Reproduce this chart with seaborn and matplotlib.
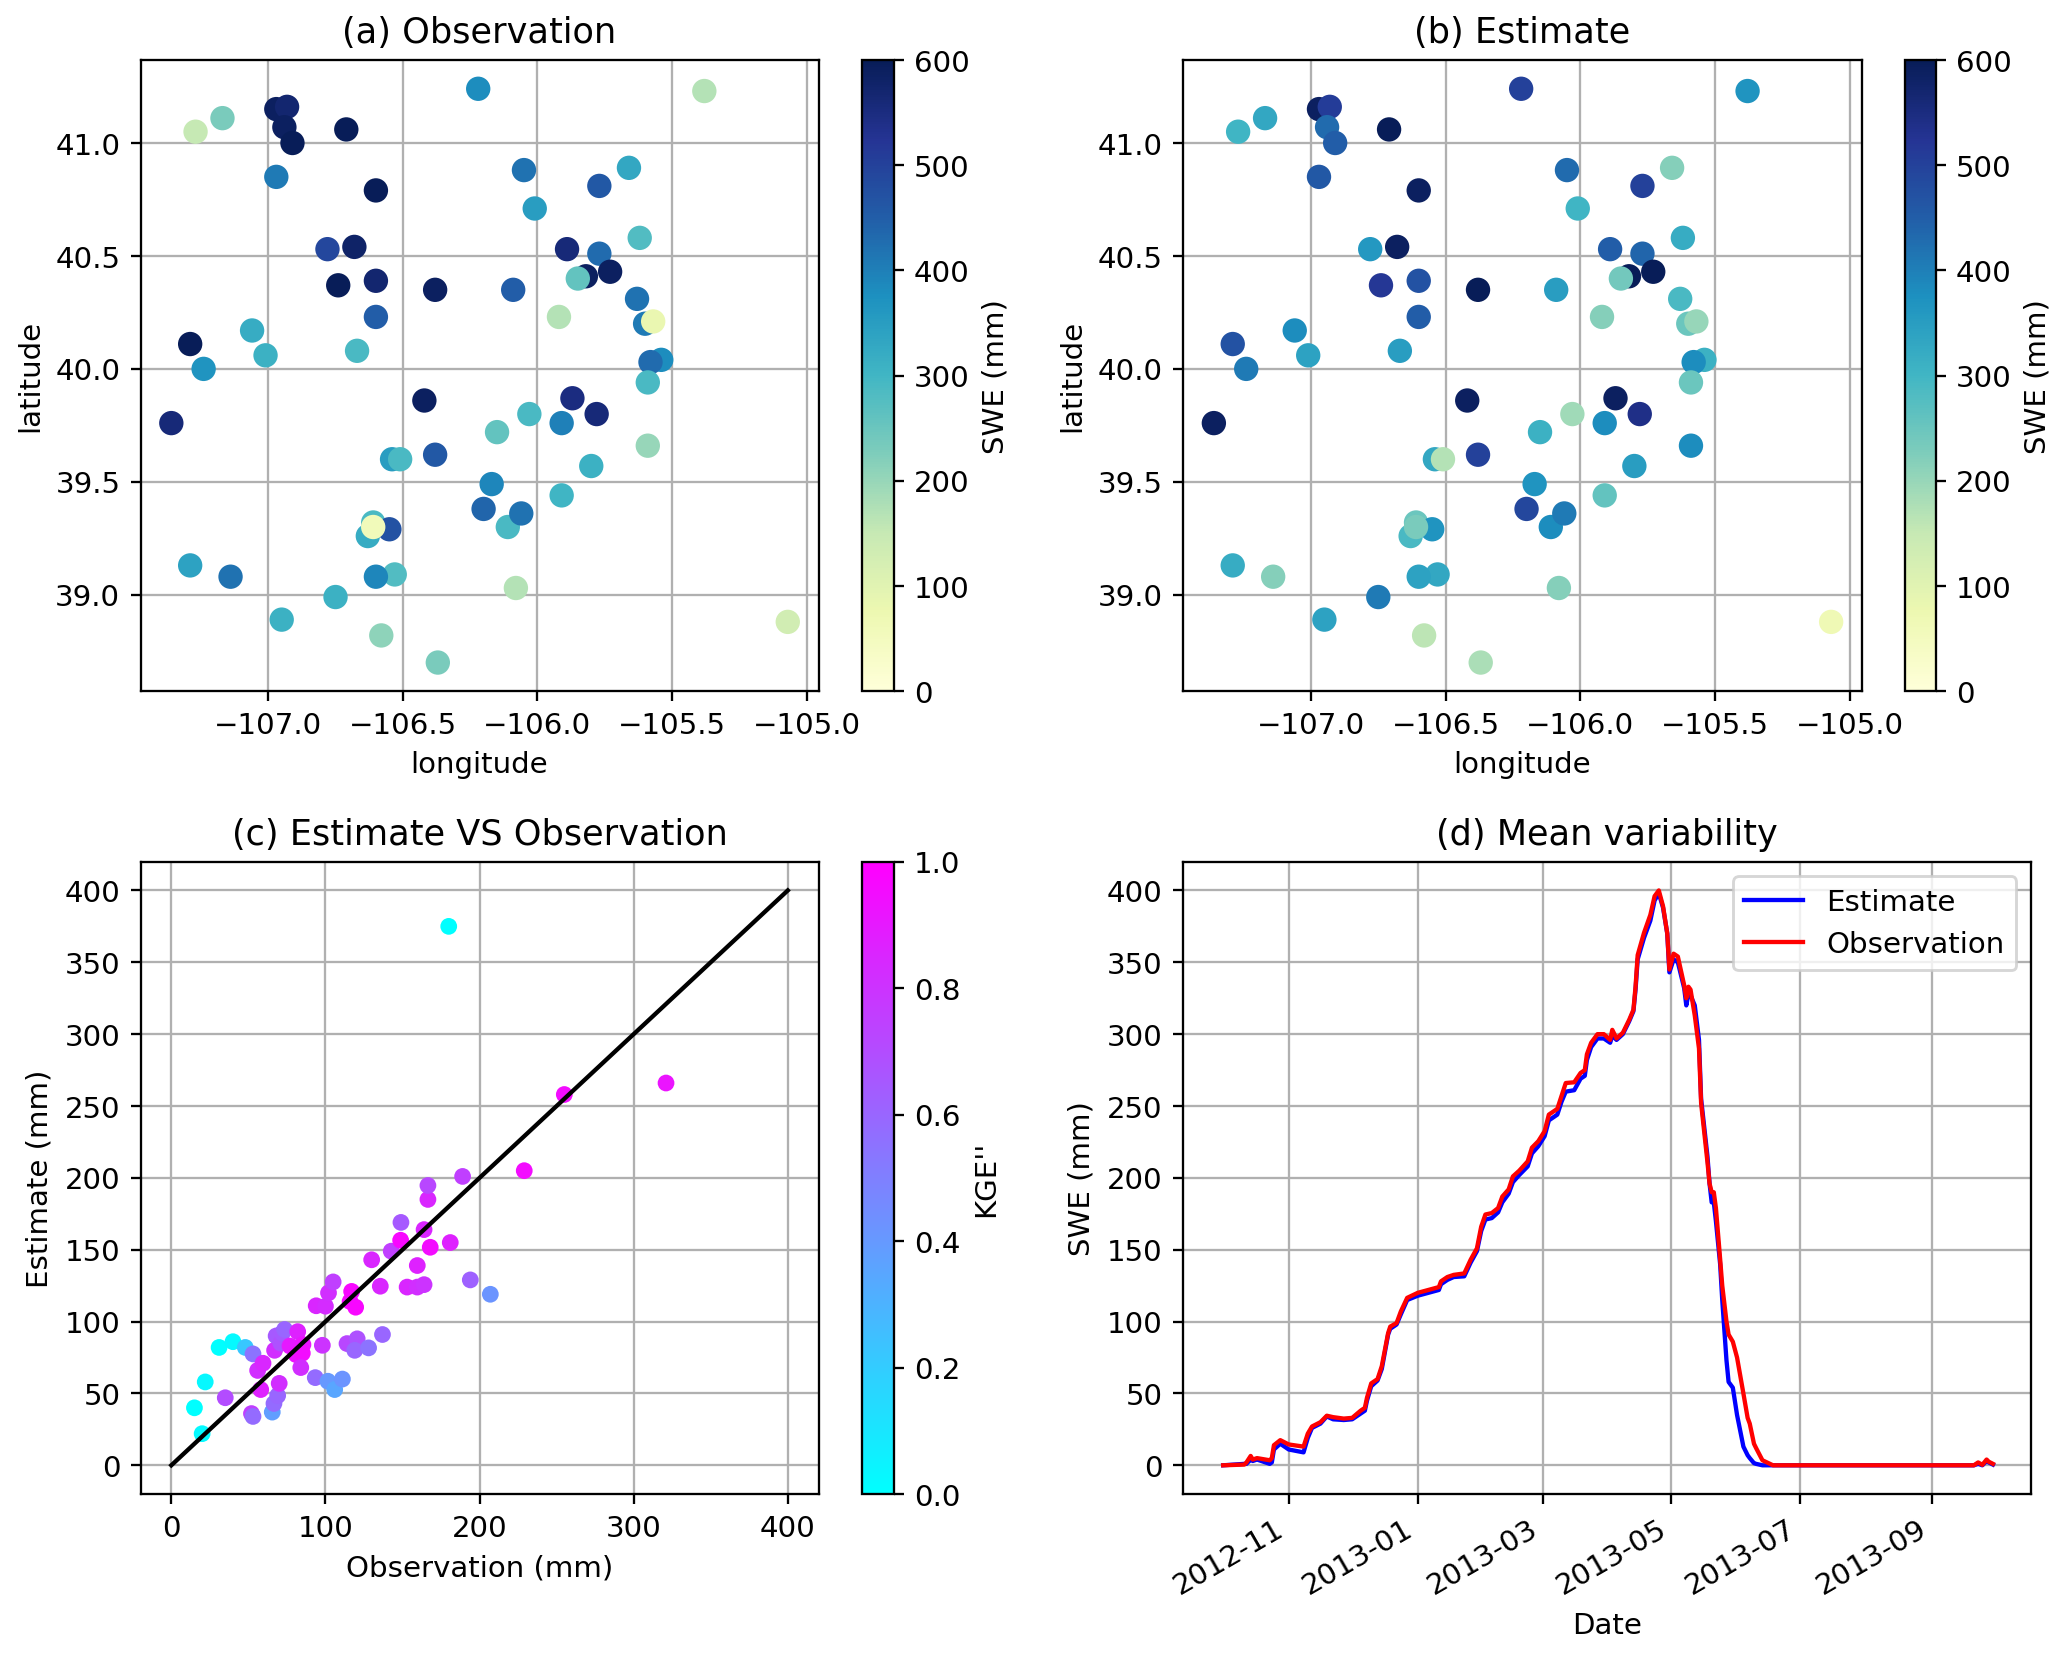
import matplotlib
matplotlib.use('Agg')
import matplotlib.pyplot as plt
import matplotlib.dates as mdates
import numpy as np
import pandas as pd
import seaborn as sns

# stations, panels (a) and (b)
lon = [-107.36, -107.29, -107.24, -107.27, -107.17, -107.29, -107.14, -107.06, -107.01, -106.97,
       -106.93, -106.94, -106.91, -106.97, -106.95, -106.78, -106.74, -106.75, -106.71, -106.68,
       -106.67, -106.60, -106.60, -106.60, -106.61, -106.63, -106.55, -106.61, -106.53, -106.60,
       -106.58, -106.54, -106.51, -106.42, -106.38, -106.38, -106.37, -106.22, -106.15, -106.20,
       -106.17, -106.11, -106.09, -106.08, -106.06, -106.05, -106.03, -106.01, -105.92, -105.91,
       -105.91, -105.89, -105.87, -105.82, -105.85, -105.80, -105.78, -105.77, -105.77, -105.73,
       -105.66, -105.63, -105.62, -105.60, -105.57, -105.54, -105.58, -105.59, -105.59, -105.38,
       -105.07]
lat = [39.76, 40.11, 40.00, 41.05, 41.11, 39.13, 39.08, 40.17, 40.06, 41.15,
       41.16, 41.07, 41.00, 40.85, 38.89, 40.53, 40.37, 38.99, 41.06, 40.54,
       40.08, 40.79, 40.39, 40.23, 39.32, 39.26, 39.29, 39.30, 39.09, 39.08,
       38.82, 39.60, 39.60, 39.86, 40.35, 39.62, 38.70, 41.24, 39.72, 39.38,
       39.49, 39.30, 40.35, 39.03, 39.36, 40.88, 39.80, 40.71, 40.23, 39.76,
       39.44, 40.53, 39.87, 40.41, 40.40, 39.57, 39.80, 40.81, 40.51, 40.43,
       40.89, 40.31, 40.58, 40.20, 40.21, 40.04, 40.03, 39.94, 39.66, 41.23,
       38.88]
swe_obs = [560, 600, 370, 150, 230, 340, 420, 320, 310, 590,
           570, 590, 600, 410, 310, 490, 600, 310, 600, 580,
           290, 600, 570, 450, 290, 320, 470, 60, 280, 390,
           210, 350, 290, 590, 590, 460, 230, 380, 260, 440,
           390, 290, 450, 170, 420, 420, 290, 350, 170, 400,
           300, 560, 550, 590, 260, 310, 560, 460, 430, 590,
           330, 420, 280, 410, 80, 380, 430, 290, 200, 170,
           130]
swe_est = [590, 470, 410, 300, 330, 320, 220, 380, 340, 590,
           510, 430, 450, 460, 340, 360, 520, 410, 600, 590,
           350, 590, 470, 450, 250, 290, 370, 230, 330, 340,
           160, 330, 170, 590, 600, 500, 180, 500, 310, 490,
           370, 380, 350, 220, 410, 430, 190, 300, 220, 380,
           260, 450, 590, 600, 240, 350, 540, 500, 440, 600,
           220, 290, 320, 250, 200, 310, 380, 250, 380, 370,
           70]

# panel (c)
c_obs = [20, 15, 22, 31, 40, 48, 53, 35, 52, 53, 65.5, 66.6, 69, 70, 58, 56, 59.5, 67, 68, 71,
         72, 73.5, 82, 77, 85.4, 81, 85, 84, 93.4, 101.6, 106, 111, 98, 114, 120.6, 119, 128, 137, 94, 100,
         102, 105, 117, 116, 119.6, 130, 135.6, 142.7, 148.8, 149, 153, 159.6, 159.6, 164, 164, 166.5, 166.5, 168, 181, 194,
         207, 189, 229, 255, 321, 180]
c_est = [22, 40, 58, 82, 86, 82, 77.5, 47, 36, 34, 37, 43, 48.5, 57, 52.7, 66, 71, 80, 90, 85,
         92, 94.5, 93, 83, 84, 77, 78, 68, 61, 58.5, 52.7, 60, 83.5, 84.7, 88, 80, 81.7, 91, 111, 110.7,
         120, 127.6, 121, 114, 110, 143, 124.6, 149, 156.6, 169, 124, 124, 139, 125.7, 164, 185, 194.7, 151.7, 155, 129,
         119, 201, 205, 258, 266, 375]
c_kge = [0.02, 0, 0.03, 0, 0.02, 0.22, 0.55, 0.7, 0.75, 0.58, 0.38, 0.58, 0.6, 0.82, 0.87, 0.82, 0.85, 0.82, 0.65, 0.68,
         0.65, 0.6, 0.87, 0.9, 0.92, 0.93, 0.95, 0.82, 0.58, 0.4, 0.35, 0.42, 0.8, 0.72, 0.68, 0.6, 0.55, 0.6, 0.85, 0.83,
         0.82, 0.75, 0.97, 0.97, 0.97, 0.85, 0.85, 0.75, 0.97, 0.65, 0.85, 0.82, 0.87, 0.8, 0.85, 0.85, 0.72, 0.95, 0.87, 0.62,
         0.42, 0.75, 0.95, 0.95, 0.92, 0]
one_to_one = [0, 400]

# panel (d)
dates = ['2012-10-01', '2012-10-11', '2012-10-12', '2012-10-14', '2012-10-15', '2012-10-17', '2012-10-23', '2012-10-24',
         '2012-10-25', '2012-10-28', '2012-11-01', '2012-11-08', '2012-11-10', '2012-11-12', '2012-11-16', '2012-11-19',
         '2012-11-22', '2012-11-27', '2012-12-01', '2012-12-05', '2012-12-07', '2012-12-08', '2012-12-10', '2012-12-13',
         '2012-12-15', '2012-12-18', '2012-12-19', '2012-12-22', '2012-12-24', '2012-12-27', '2013-01-01', '2013-01-11',
         '2013-01-12', '2013-01-15', '2013-01-18', '2013-01-23', '2013-01-26', '2013-01-29', '2013-01-31', '2013-02-02',
         '2013-02-05', '2013-02-08', '2013-02-10', '2013-02-13', '2013-02-15', '2013-02-18', '2013-02-22', '2013-02-24',
         '2013-02-27', '2013-03-02', '2013-03-04', '2013-03-08', '2013-03-10', '2013-03-12', '2013-03-16', '2013-03-19',
         '2013-03-21', '2013-03-22', '2013-03-24', '2013-03-27', '2013-03-30', '2013-04-02', '2013-04-03', '2013-04-05',
         '2013-04-08', '2013-04-11', '2013-04-13', '2013-04-14', '2013-04-15', '2013-04-18', '2013-04-21', '2013-04-23',
         '2013-04-25', '2013-04-27', '2013-04-29', '2013-04-30', '2013-05-02', '2013-05-04', '2013-05-07', '2013-05-08',
         '2013-05-09', '2013-05-10', '2013-05-12', '2013-05-14', '2013-05-15', '2013-05-18', '2013-05-19', '2013-05-20',
         '2013-05-21', '2013-05-22', '2013-05-24', '2013-05-25', '2013-05-27', '2013-05-28', '2013-05-30', '2013-06-01',
         '2013-06-04', '2013-06-06', '2013-06-07', '2013-06-09', '2013-06-10', '2013-06-13', '2013-06-18', '2013-09-21',
         '2013-09-23', '2013-09-25', '2013-09-27', '2013-09-28', '2013-09-30']
swe_d_obs = [0, 0.5, 2, 6.5, 4, 5, 3.5, 5,
             14, 17.5, 14.5, 13, 22, 27, 30, 34.5,
             33.5, 32.5, 33, 38, 40, 47, 57, 60,
             69, 92, 96.5, 99, 107, 116.5, 120, 124,
             128, 131, 132.5, 133.5, 143, 151, 166, 174.5,
             175.5, 179, 187, 192, 201, 205, 211.5, 221,
             225.5, 232.5, 244, 248, 257, 266, 266.5, 273,
             275, 286, 294, 300, 300, 296, 303, 297,
             301, 310, 317, 333, 355, 370.5, 383, 396,
             400, 389, 370, 345, 356, 354, 334, 325,
             333, 331, 313, 290, 252, 211, 196, 190,
             190, 179, 143.5, 125, 100, 91, 86, 75,
             50, 33, 29, 15, 12, 3.5, 0, 0,
             2, 0.3, 4, 2.5, 1]
swe_d_est = [0, 1, 1, 4, 3, 4, 1, 2,
             11, 15, 11, 9, 19, 26, 29, 34,
             32, 31.5, 32, 36, 38, 45, 55, 59,
             67, 91, 95, 98, 105, 115, 118, 122,
             126, 129, 131, 131.5, 141, 149, 163, 171,
             172, 176, 183, 189, 197, 202, 208, 217,
             222, 229, 240, 244, 253, 260, 261, 269,
             271, 282, 291, 297, 297, 294, 299, 296,
             300, 309, 316, 331, 352, 367, 379, 393,
             398, 388, 370, 343, 352, 350, 332, 320,
             328, 327, 320, 296, 255, 215, 196, 183,
             183, 170, 140, 115, 73, 58, 54, 35,
             13, 7, 5, 1.5, 1, 0, 0, 0,
             1, 0, 3, 2, 0.5]

df_sites = pd.DataFrame({'lon': lon, 'lat': lat, 'obs': swe_obs, 'est': swe_est})
df_c = pd.DataFrame({'obs': c_obs, 'est': c_est, 'kge': c_kge})
df_d = pd.DataFrame({'date': pd.to_datetime(dates), 'est': swe_d_est, 'obs': swe_d_obs})

W, H = 2067, 1654
plt.rcParams['font.size'] = 10.2


def make_ax(fig, x0, x1, y0, y1):
    # pixel box from the top left -> figure fraction
    return fig.add_axes([x0 / W, 1 - y1 / H, (x1 - x0) / W, (y1 - y0) / H])


def add_cbar(fig, cax, cmap, vmin, vmax, label):
    sm = plt.cm.ScalarMappable(cmap=cmap, norm=plt.Normalize(vmin, vmax))
    cb = fig.colorbar(sm, cax=cax)
    cb.set_label(label)
    return cb


fig = plt.figure(figsize=(10, 8), dpi=206.7)

# (a) and (b)
for col, title, x0, x1, cx0, cx1 in [('obs', '(a) Observation', 140.5, 818.6, 861.5, 894),
                                      ('est', '(b) Estimate', 1183, 1862, 1905, 1936)]:
    ax = make_ax(fig, x0, x1, 60.7, 692)
    sns.scatterplot(data=df_sites, x='lon', y='lat', hue=col, palette='YlGnBu', hue_norm=(0, 600),
                    s=72, linewidth=0, legend=False, ax=ax, zorder=3)
    ax.set_xlabel('longitude')
    ax.set_ylabel('latitude')
    ax.set_title(title)
    ax.set_xticks([-107, -106.5, -106, -105.5, -105])
    ax.set_yticks([39, 39.5, 40, 40.5, 41])
    ax.grid(True)
    ax.set_axisbelow(True)
    cax = make_ax(fig, cx0, cx1, 60.7, 692)
    add_cbar(fig, cax, 'YlGnBu', 0, 600, 'SWE (mm)')

# (c)
ax = make_ax(fig, 140.5, 818.6, 862.5, 1495)
sns.scatterplot(data=df_c, x='obs', y='est', hue='kge', palette='cool', hue_norm=(0, 1),
                s=34, linewidth=0, legend=False, ax=ax, zorder=3)
sns.lineplot(x=one_to_one, y=one_to_one, color='k', linewidth=1.5, ax=ax, zorder=4)
ax.set_xlabel('Observation (mm)')
ax.set_ylabel('Estimate (mm)')
ax.set_title('(c) Estimate VS Observation')
ax.grid(True)
ax.set_axisbelow(True)
cax = make_ax(fig, 861.5, 894, 862.5, 1495)
add_cbar(fig, cax, 'cool', 0, 1, "KGE''")

# (d)
ax = make_ax(fig, 1183, 2031, 862.5, 1495)
sns.lineplot(data=df_d, x='date', y='est', color='b', linewidth=1.5, label='Estimate', ax=ax)
sns.lineplot(data=df_d, x='date', y='obs', color='r', linewidth=1.5, label='Observation', ax=ax)
ax.set_xlabel('Date')
ax.set_ylabel('SWE (mm)')
ax.set_title('(d) Mean variability')
ax.set_xlim(pd.Timestamp('2012-09-12'), pd.Timestamp('2013-10-18'))
ax.xaxis.set_major_locator(mdates.MonthLocator(bymonth=[1, 3, 5, 7, 9, 11]))
ax.xaxis.set_major_formatter(mdates.DateFormatter('%Y-%m'))
ax.tick_params(axis='x', rotation=30)
for t in ax.get_xticklabels():
    t.set_ha('right')
ax.grid(True)
ax.set_axisbelow(True)
ax.legend(loc='upper right')

fig.savefig('out.png', dpi=206.7)
